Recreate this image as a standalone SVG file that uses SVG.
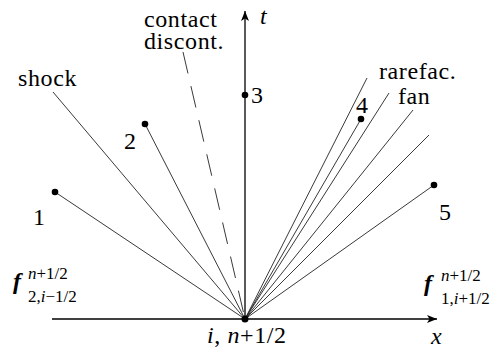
<svg xmlns="http://www.w3.org/2000/svg" width="504" height="354" viewBox="0 0 504 354">
<defs>
<marker id="arr" markerUnits="userSpaceOnUse" markerWidth="12" markerHeight="10" refX="10" refY="4" orient="auto">
<path d="M0,0 L10,4 L0,8 L2.5,4 Z" fill="#000"/>
</marker>
</defs>
<style>
.ax{stroke:#000;stroke-width:1.3;fill:none}
.ray{stroke:#222;stroke-width:0.9;fill:none}
.dash{stroke:#222;stroke-width:0.9;fill:none;stroke-dasharray:22 13}
.dot{fill:#000}
text{font-family:'Liberation Serif','Times New Roman',Times,'DejaVu Serif',serif}
.lb{font-size:24px;letter-spacing:0.6px}
.it{font-style:italic}
.bf{font-weight:bold;font-style:italic}
.sm{font-size:17px}
</style>
<rect width="504" height="354" fill="#fff"/>
<g id="connectors">
<line class="ray" x1="245" y1="319" x2="53" y2="92"/>
<line class="ray" x1="245" y1="319" x2="145" y2="124"/>
<line class="ray" x1="245" y1="319" x2="55" y2="192"/>
<line class="dash" x1="183" y1="52" x2="245" y2="319"/>
<line class="ray" x1="245" y1="319" x2="367" y2="78"/>
<line class="ray" x1="245" y1="319" x2="361" y2="119"/>
<line class="ray" x1="245" y1="319" x2="389" y2="93"/>
<line class="ray" x1="245" y1="319" x2="413" y2="110"/>
<line class="ray" x1="245" y1="319" x2="429" y2="135"/>
<line class="ray" x1="245" y1="319" x2="434" y2="185"/>
<line id="x-axis" class="ax" x1="52" y1="319" x2="437" y2="319" marker-end="url(#arr)"/>
<line id="t-axis" class="ax" x1="245" y1="319" x2="245" y2="11" marker-end="url(#arr)"/>
</g>
<g id="origin"><circle class="dot" cx="245" cy="319" r="3.5"/>
<text class="lb" x="207" y="343"><tspan class="it">i</tspan>, <tspan class="it">n</tspan>+1/2</text></g>
<g id="p1"><circle class="dot" cx="55" cy="192" r="3.3"/><text class="lb" x="33" y="225">1</text></g>
<g id="p2"><circle class="dot" cx="145" cy="124" r="3.3"/><text class="lb" x="124" y="149">2</text></g>
<g id="p3"><circle class="dot" cx="245" cy="95" r="3.3"/><text class="lb" x="251" y="103">3</text></g>
<g id="p4"><circle class="dot" cx="361" cy="119" r="3.3"/><text class="lb" x="356" y="113">4</text></g>
<g id="p5"><circle class="dot" cx="434" cy="185" r="3.3"/><text class="lb" x="439" y="220">5</text></g>
<g id="shock"><text class="lb" x="18" y="86">shock</text></g>
<g id="contact"><text class="lb" x="144" y="27">contact</text><text class="lb" x="144" y="49">discont.</text></g>
<g id="rarefaction"><text class="lb" x="379" y="79">rarefac.</text><text class="lb" x="398" y="104">fan</text></g>
<g id="t-label"><text class="lb it" x="260" y="24">t</text></g>
<g id="x-label"><text class="lb it" x="431" y="344">x</text></g>
<g id="flux-left">
<text class="lb bf" x="13" y="289">f</text>
<text class="sm" x="28" y="279"><tspan class="it">n</tspan>+1/2</text>
<text class="sm" x="28" y="302">2,<tspan class="it">i</tspan>−1/2</text>
</g>
<g id="flux-right">
<text class="lb bf" x="424" y="291">f</text>
<text class="sm" x="441" y="281"><tspan class="it">n</tspan>+1/2</text>
<text class="sm" x="441" y="304">1,<tspan class="it">i</tspan>+1/2</text>
</g>
</svg>
